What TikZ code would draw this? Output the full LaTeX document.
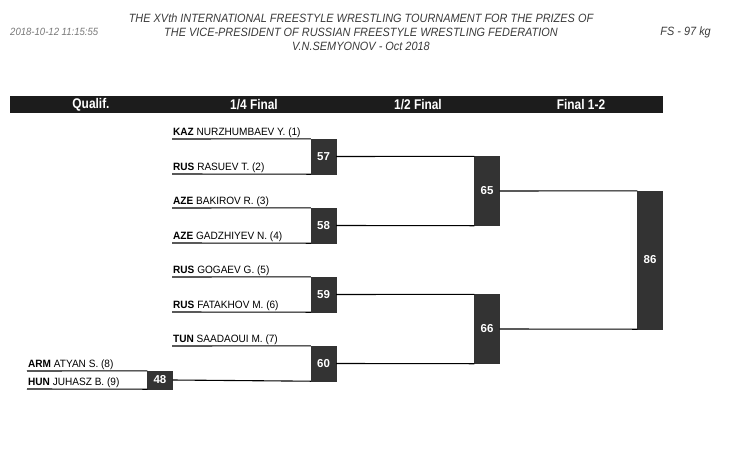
\documentclass[tikz,border=0pt]{standalone}
\usepackage{fontspec}
\setmainfont{Liberation Sans}
\newfontfamily\hdrfont[FakeStretch=0.85]{Liberation Sans}
\newfontfamily\ttlfont[FakeStretch=0.91]{Liberation Sans}
\newfontfamily\namefont[FakeStretch=0.95]{Liberation Sans}
\definecolor{barblack}{HTML}{1C1C1C}
\definecolor{boxgray}{HTML}{333333}
\definecolor{ttlgray}{HTML}{3A3A3A}
\definecolor{dategray}{HTML}{777777}
\begin{document}
\begin{tikzpicture}[x=1pt,y=-1pt,
  box/.style={fill=boxgray,draw=boxgray,text=white,inner sep=0pt,minimum width=25pt,font=\bfseries\fontsize{11.5}{12}\selectfont},
  competitor/.style={anchor=base west,inner sep=0pt,font=\namefont\fontsize{10.6}{12}\selectfont},
  bline/.style={line width=1.1pt,black},
  colhead/.style={text=white,inner sep=0pt,font=\hdrfont\bfseries\fontsize{14}{15}\selectfont},
  ttl/.style={text=ttlgray,inner sep=0pt,font=\ttlfont\itshape\fontsize{12}{14}\selectfont}]
\useasboundingbox (0,0) rectangle (729,451);
% header texts
\node[ttl] (t1) at (361,18) {THE XVth INTERNATIONAL FREESTYLE WRESTLING TOURNAMENT FOR THE PRIZES OF};
\node[ttl] (t2) at (361,32) {THE VICE-PRESIDENT OF RUSSIAN FREESTYLE WRESTLING FEDERATION};
\node[ttl] (t3) at (361,46) {V.N.SEMYONOV - Oct 2018};
\node[anchor=west,inner sep=0pt,text=dategray,font=\ttlfont\itshape\fontsize{10.5}{12}\selectfont] (date) at (10,32) {2018-10-12 11:15:55};
\node[anchor=east,inner sep=0pt,text=ttlgray,font=\ttlfont\itshape\fontsize{12}{14}\selectfont] (cat) at (711,32) {FS - 97 kg};
% column bar
\fill[barblack] (10,96) rectangle (663,113);
\node[colhead] (h1) at (91,104.5) {Qualif.};
\node[colhead] (h2) at (254,104.5) {1/4 Final};
\node[colhead] (h3) at (418,104.5) {1/2 Final};
\node[colhead] (h4) at (581,104.5) {Final 1-2};
% boxes
\node[box,minimum height=35pt] (b57) at (323.5,156.5) {57};
\node[box,minimum height=35pt] (b58) at (323.5,225.5) {58};
\node[box,minimum height=35pt] (b59) at (323.5,294.5) {59};
\node[box,minimum height=35pt] (b60) at (323.5,363.5) {60};
\node[box,minimum height=18pt] (b48) at (160,380) {48};
\node[box,minimum height=69pt] (b65) at (487,191) {65};
\node[box,minimum height=69pt] (b66) at (487,329) {66};
\node[box,minimum height=138pt] (b86) at (650,260) {86};
% competitor names
\node[competitor] (c1) at (173,135) {\textbf{KAZ} NURZHUMBAEV Y. (1)};
\node[competitor] (c2) at (173,170) {\textbf{RUS} RASUEV T. (2)};
\node[competitor] (c3) at (173,204) {\textbf{AZE} BAKIROV R. (3)};
\node[competitor] (c4) at (173,239) {\textbf{AZE} GADZHIYEV N. (4)};
\node[competitor] (c5) at (173,273) {\textbf{RUS} GOGAEV G. (5)};
\node[competitor] (c6) at (173,308) {\textbf{RUS} FATAKHOV M. (6)};
\node[competitor] (c7) at (173,342) {\textbf{TUN} SAADAOUI M. (7)};
\node[competitor] (c8) at (28,367) {\textbf{ARM} ATYAN S. (8)};
\node[competitor] (c9) at (28,385.5) {\textbf{HUN} JUHASZ B. (9)};
% line start points
\coordinate (s1) at (172,139);
\coordinate (s2) at (172,174);
\coordinate (s3) at (172,208);
\coordinate (s4) at (172,243);
\coordinate (s5) at (172,277);
\coordinate (s6) at (172,312);
\coordinate (s7) at (172,346);
\coordinate (s8) at (27,371);
\coordinate (s9) at (27,389);
% entry lines
\draw[bline] (s1) -- (b57.north west);
\draw[bline] (s2) -- (b57.south west);
\draw[bline] (s3) -- (b58.north west);
\draw[bline] (s4) -- (b58.south west);
\draw[bline] (s5) -- (b59.north west);
\draw[bline] (s6) -- (b59.south west);
\draw[bline] (s7) -- (b60.north west);
\draw[bline] (s8) -- (b48.north west);
\draw[bline] (s9) -- (b48.south west);
% progression lines
\draw[bline] (b48.east) -- (b60.south west);
\draw[bline] (b57.east) -- (b65.north west);
\draw[bline] (b58.east) -- (b65.south west);
\draw[bline] (b59.east) -- (b66.north west);
\draw[bline] (b60.east) -- (b66.south west);
\draw[bline] (b65.east) -- (b86.north west);
\draw[bline] (b66.east) -- (b86.south west);
\end{tikzpicture}
\end{document}
